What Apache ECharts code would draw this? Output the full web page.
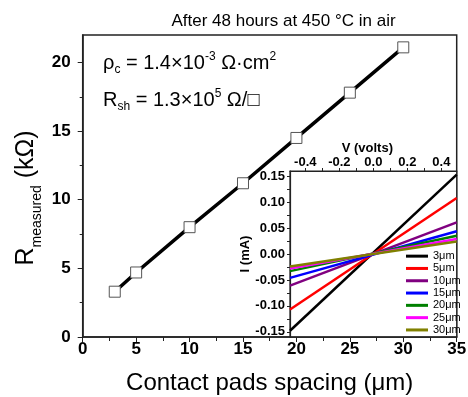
<!DOCTYPE html>
<html>
<head>
<meta charset="utf-8">
<script src="https://cdn.jsdelivr.net/npm/echarts@6/dist/echarts.min.js"></script>
<style>
  html, body { margin: 0; padding: 0; background: #fff; }
  #chart { width: 468px; height: 397px; }
</style>
</head>
<body>
<div id="chart"></div>
<script>
// main plot: measured resistance vs pad spacing
const spacing = [3, 5, 10, 15, 20, 25, 30];
const resistance = [3.3, 4.7, 8.0, 11.2, 14.5, 17.8, 21.1];

// inset: I-V lines, currents read at the two ends of the voltage range
const voltage = [-0.49, 0.49];
const current3 = [-0.148, 0.153];
const current5 = [-0.107, 0.108];
const current10 = [-0.061, 0.061];
const current15 = [-0.046, 0.044];
const current20 = [-0.033, 0.035];
const current25 = [-0.028, 0.029];
const current30 = [-0.024, 0.024];
const ivNames = ["3μm", "5μm", "10μm", "15μm", "20μm", "25μm", "30μm"];
const ivColors = ["#000000", "#ff0000", "#800080", "#0000ff", "#008000", "#ff00ff", "#808000"];

// tick labels
const yTicks = [0, 5, 10, 15, 20];
const yMinorTicks = [2.5, 7.5, 12.5, 17.5];
const vTicks = [-0.4, -0.2, 0, 0.2, 0.4];
const vAllTicks = [-0.4, -0.3, -0.2, -0.1, 0, 0.1, 0.2, 0.3, 0.4];
const iTicks = [-0.15, -0.1, -0.05, 0, 0.05, 0.1, 0.15];
const iAllTicks = [-0.15, -0.125, -0.1, -0.075, -0.05, -0.025, 0, 0.025, 0.05, 0.075, 0.1, 0.125, 0.15];

const FONT = "Liberation Sans";
const AXIS = { onZero: false, lineStyle: { color: "#222", width: 1.5 } };
const INSET_AXIS = { onZero: false, lineStyle: { color: "#222", width: 1.2 } };

const chart = echarts.init(document.getElementById("chart"));

const currents = [current3, current5, current10, current15, current20, current25, current30];
const ivSeries = currents.map((cur, i) => ({
  name: ivNames[i],
  type: "line",
  xAxisIndex: 1,
  yAxisIndex: 2,
  symbol: "none",
  itemStyle: { color: ivColors[i] },
  lineStyle: { color: ivColors[i], width: 2.5 },
  data: voltage.map((v, j) => [v, cur[j]]),
  z: 5,
}));

const option = {
  animation: false,
  textStyle: { fontFamily: FONT },
  grid: [
    {
      left: 82.7, right: 11.3, top: 35, bottom: 60,
      outerBoundsMode: "none",
      show: true, borderColor: "#222", borderWidth: 1.5, backgroundColor: "transparent",
    },
    {
      left: 290, right: 11.3, top: 171, bottom: 60,
      outerBoundsMode: "none",
      show: true, borderColor: "#222", borderWidth: 1.2, backgroundColor: "#fff",
    },
  ],
  xAxis: [
    {
      gridIndex: 0,
      type: "value",
      min: 0,
      max: 35,
      interval: 5,
      axisLine: AXIS,
      axisTick: { length: 5, lineStyle: { color: "#222" } },
      minorTick: { show: true, splitNumber: 2, length: 4, lineStyle: { color: "#222" } },
      splitLine: { show: false },
      axisLabel: { color: "#000", fontSize: 17, fontWeight: "bold", margin: 4 },
      name: "Contact pads spacing (μm)",
      nameLocation: "middle",
      nameGap: 34,
      nameTextStyle: { color: "#000", fontSize: 24 },
    },
    {
      gridIndex: 1,
      type: "value",
      position: "top",
      min: -0.49,
      max: 0.49,
      axisLine: INSET_AXIS,
      axisTick: { customValues: vAllTicks, length: 3, lineStyle: { color: "#222" } },
      splitLine: { show: false },
      axisLabel: {
        customValues: vTicks,
        color: "#000",
        fontSize: 13,
        fontWeight: "bold",
        margin: 2,
        formatter: (v) => (Math.abs(v) < 1e-9 ? "0.0" : v.toFixed(1)),
      },
      name: "V (volts)",
      nameLocation: "middle",
      nameGap: 12,
      nameTextStyle: { color: "#000", fontSize: 13, fontWeight: "bold", padding: [0, 12, 0, 0] },
    },
  ],
  yAxis: [
    {
      gridIndex: 0,
      type: "value",
      min: 0,
      max: 22,
      axisLine: AXIS,
      axisTick: { customValues: yTicks, length: 5, lineStyle: { color: "#222" } },
      splitLine: { show: false },
      axisLabel: { customValues: yTicks, color: "#000", fontSize: 17, fontWeight: "bold", margin: 12 },
    },
    {
      // minor ticks of the main y axis
      gridIndex: 0,
      type: "value",
      position: "left",
      min: 0,
      max: 22,
      axisLine: { show: false, onZero: false },
      axisTick: { customValues: yMinorTicks, length: 3, lineStyle: { color: "#222" } },
      axisLabel: { show: false },
      splitLine: { show: false },
    },
    {
      gridIndex: 1,
      type: "value",
      position: "left",
      min: -0.16,
      max: 0.16,
      axisLine: INSET_AXIS,
      axisTick: { customValues: iAllTicks, length: 3, lineStyle: { color: "#222" } },
      splitLine: { show: false },
      axisLabel: {
        customValues: iTicks,
        color: "#000",
        fontSize: 13,
        fontWeight: "bold",
        margin: 5,
        formatter: (v) => (Math.abs(v) < 1e-9 ? "0.00" : v.toFixed(2)),
      },
      name: "I (mA)",
      nameLocation: "middle",
      nameRotate: 90,
      nameGap: 33,
      nameTextStyle: { color: "#000", fontSize: 13, fontWeight: "bold" },
    },
  ],
  legend: {
    data: ivNames,
    orient: "vertical",
    left: 406,
    top: 250,
    padding: 0,
    itemGap: 0,
    itemWidth: 22,
    itemHeight: 3,
    icon: "rect",
    textStyle: { color: "#000", fontSize: 11, lineHeight: 12.3 },
  },
  graphic: [
    {
      type: "text",
      x: 283.5,
      y: 21,
      style: { text: "After 48 hours at 450 °C in air", font: "17px " + FONT, fill: "#000", align: "center", verticalAlign: "middle" },
    },
    {
      type: "text",
      x: 103,
      y: 63,
      style: {
        text: "{m|ρ}{sub|c}{m| = 1.4×10}{sup|-3}{m| Ω·cm}{sup|2}",
        verticalAlign: "middle",
        rich: {
          m: { fontFamily: FONT, fontSize: 20, lineHeight: 25, fill: "#000" },
          sub: { fontFamily: FONT, fontSize: 12, lineHeight: 12, verticalAlign: "bottom", fill: "#000" },
          sup: { fontFamily: FONT, fontSize: 12, lineHeight: 10, verticalAlign: "top", fill: "#000" },
        },
      },
    },
    {
      type: "text",
      x: 103,
      y: 100,
      style: {
        text: "{m|R}{sub|sh}{m| = 1.3×10}{sup|5}{m| Ω/□}",
        verticalAlign: "middle",
        rich: {
          m: { fontFamily: FONT, fontSize: 20, lineHeight: 25, fill: "#000" },
          sub: { fontFamily: FONT, fontSize: 12, lineHeight: 12, verticalAlign: "bottom", fill: "#000" },
          sup: { fontFamily: FONT, fontSize: 12, lineHeight: 10, verticalAlign: "top", fill: "#000" },
        },
      },
    },
    {
      type: "text",
      x: 26,
      y: 198,
      rotation: Math.PI / 2,
      style: {
        text: "{m|R}{sub|measured}{m| (kΩ)}",
        align: "center",
        verticalAlign: "middle",
        rich: {
          m: { fontFamily: FONT, fontSize: 25, lineHeight: 37, fill: "#000" },
          sub: { fontFamily: FONT, fontSize: 14, lineHeight: 14, verticalAlign: "bottom", fill: "#000" },
        },
      },
    },
  ],
  series: [
    {
      name: "R",
      type: "line",
      xAxisIndex: 0,
      yAxisIndex: 0,
      symbol: "rect",
      symbolSize: 11,
      itemStyle: { color: "#fff", borderColor: "#555", borderWidth: 1 },
      lineStyle: { color: "#000", width: 3.5 },
      data: spacing.map((s, i) => [s, resistance[i]]),
      z: 3,
    },
    ...ivSeries,
  ],
};

chart.setOption(option);
</script>
</body>
</html>
